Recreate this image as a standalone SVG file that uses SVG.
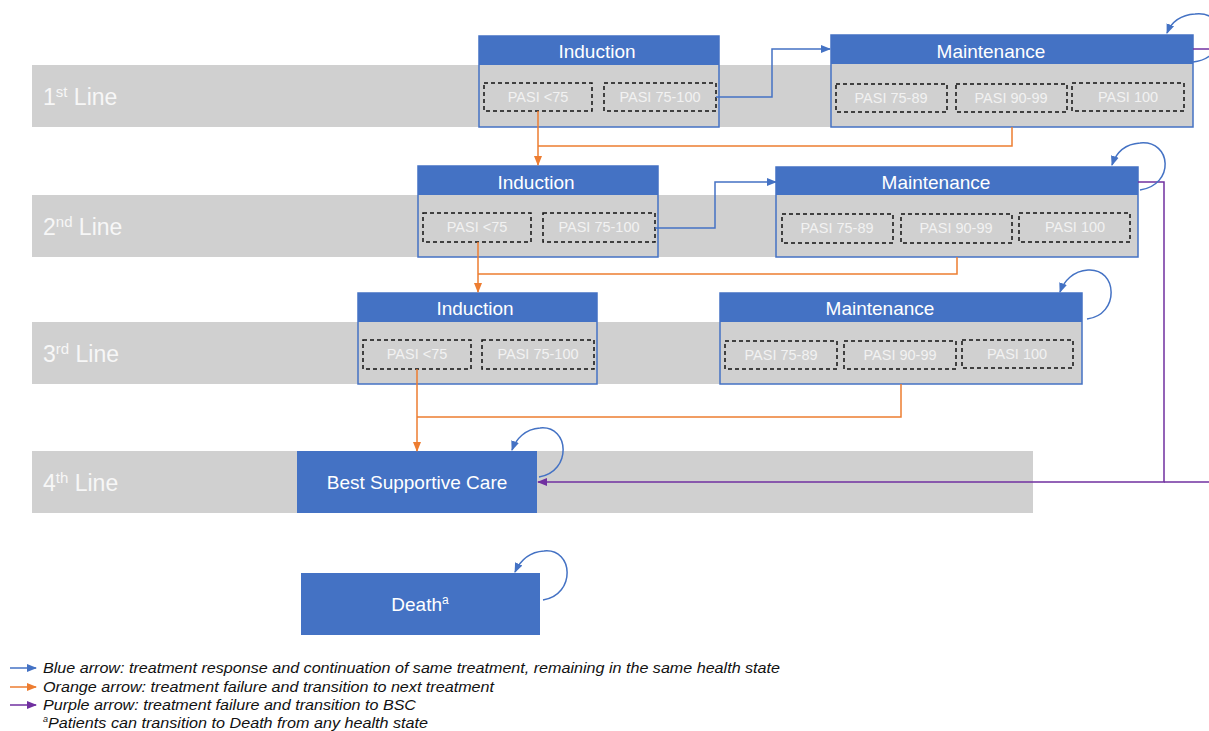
<svg xmlns="http://www.w3.org/2000/svg" width="1209" height="731" viewBox="0 0 1209 731">
<defs>
<marker id="ab" markerUnits="userSpaceOnUse" markerWidth="10" markerHeight="10" viewBox="0 0 10 10" refX="9" refY="5" orient="auto"><path d="M0,1 L10,5 L0,9 Z" fill="#4472C4"/></marker>
<marker id="ao" markerUnits="userSpaceOnUse" markerWidth="10" markerHeight="10" viewBox="0 0 10 10" refX="9" refY="5" orient="auto"><path d="M0,1 L10,5 L0,9 Z" fill="#ED7D31"/></marker>
<marker id="ap" markerUnits="userSpaceOnUse" markerWidth="10" markerHeight="10" viewBox="0 0 10 10" refX="9" refY="5" orient="auto"><path d="M0,1 L10,5 L0,9 Z" fill="#7030A0"/></marker>
</defs>
<style>
text{font-family:"Liberation Sans",Arial,sans-serif}
.band{fill:#d0d0d0}
.rl{fill:#f7f7f7;font-size:23px}
.hd{fill:#4472C4}
.bd{fill:#d0d0d0}
.frame{fill:none;stroke:#4472C4;stroke-width:1.5}
.ht{fill:#ffffff;font-size:19px;text-anchor:middle}
.dash{fill:none;stroke:#111;stroke-width:1.5;stroke-dasharray:4 3}
.pt{fill:#f2f2f2;font-size:14.5px;text-anchor:middle}
.blk{fill:#4472C4}
.cb{fill:none;stroke:#4472C4;stroke-width:1.5}
.co{fill:none;stroke:#ED7D31;stroke-width:1.5}
.cp{fill:none;stroke:#7030A0;stroke-width:1.5}
.lg{fill:#111;font-size:15px;font-style:italic}
</style>
<rect width="1209" height="731" fill="#ffffff"/>
<g id="bands">
<rect class="band" x="32" y="65" width="1161" height="62"/>
<rect class="band" x="32" y="195" width="1106" height="62"/>
<rect class="band" x="32" y="322" width="1050" height="62"/>
<rect class="band" x="32" y="451" width="1001" height="62"/>
<text class="rl" x="43" y="105">1<tspan font-size="15" dy="-8">st</tspan><tspan dy="8"> Line</tspan></text>
<text class="rl" x="43" y="235">2<tspan font-size="15" dy="-8">nd</tspan><tspan dy="8"> Line</tspan></text>
<text class="rl" x="43" y="362">3<tspan font-size="15" dy="-8">rd</tspan><tspan dy="8"> Line</tspan></text>
<text class="rl" x="43" y="491">4<tspan font-size="15" dy="-8">th</tspan><tspan dy="8"> Line</tspan></text>
</g>
<g id="ind1">
<rect class="bd" x="479" y="65" width="240" height="62"/>
<rect class="hd" x="479" y="36" width="240" height="29"/>
<rect class="frame" x="479" y="36" width="240" height="91"/>
<text class="ht" x="597" y="58">Induction</text>
<rect class="dash" x="484" y="83" width="108" height="28"/>
<text class="pt" x="538" y="102">PASI &lt;75</text>
<rect class="dash" x="604" y="83" width="112" height="28"/>
<text class="pt" x="660" y="102">PASI 75-100</text>
</g>
<g id="maint1">
<rect class="bd" x="831" y="64" width="362" height="63"/>
<rect class="hd" x="831" y="35" width="362" height="29"/>
<rect class="frame" x="831" y="35" width="362" height="92"/>
<text class="ht" x="991" y="58">Maintenance</text>
<rect class="dash" x="836" y="84" width="111" height="28"/>
<text class="pt" x="891" y="103">PASI 75-89</text>
<rect class="dash" x="956" y="84" width="111" height="28"/>
<text class="pt" x="1011" y="103">PASI 90-99</text>
<rect class="dash" x="1072" y="83" width="112" height="28"/>
<text class="pt" x="1128" y="102">PASI 100</text>
</g>
<g id="ind2">
<rect class="bd" x="418" y="195" width="240" height="62"/>
<rect class="hd" x="418" y="166" width="240" height="29"/>
<rect class="frame" x="418" y="166" width="240" height="91"/>
<text class="ht" x="536" y="189">Induction</text>
<rect class="dash" x="423" y="213" width="108" height="29"/>
<text class="pt" x="477" y="232">PASI &lt;75</text>
<rect class="dash" x="543" y="213" width="112" height="29"/>
<text class="pt" x="599" y="232">PASI 75-100</text>
</g>
<g id="maint2">
<rect class="bd" x="776" y="195" width="362" height="62"/>
<rect class="hd" x="776" y="167" width="362" height="28"/>
<rect class="frame" x="776" y="167" width="362" height="90"/>
<text class="ht" x="936" y="189">Maintenance</text>
<rect class="dash" x="782" y="214" width="111" height="29"/>
<text class="pt" x="837" y="233">PASI 75-89</text>
<rect class="dash" x="901" y="214" width="111" height="29"/>
<text class="pt" x="956" y="233">PASI 90-99</text>
<rect class="dash" x="1019" y="213" width="111" height="29"/>
<text class="pt" x="1075" y="232">PASI 100</text>
</g>
<g id="ind3">
<rect class="bd" x="358" y="322" width="239" height="62"/>
<rect class="hd" x="358" y="293" width="239" height="29"/>
<rect class="frame" x="358" y="293" width="239" height="91"/>
<text class="ht" x="475" y="315">Induction</text>
<rect class="dash" x="363" y="340" width="108" height="29"/>
<text class="pt" x="417" y="359">PASI &lt;75</text>
<rect class="dash" x="482" y="340" width="112" height="29"/>
<text class="pt" x="538" y="359">PASI 75-100</text>
</g>
<g id="maint3">
<rect class="bd" x="720" y="322" width="362" height="62"/>
<rect class="hd" x="720" y="293" width="362" height="29"/>
<rect class="frame" x="720" y="293" width="362" height="91"/>
<text class="ht" x="880" y="315">Maintenance</text>
<rect class="dash" x="725" y="341" width="112" height="28"/>
<text class="pt" x="781" y="360">PASI 75-89</text>
<rect class="dash" x="844" y="341" width="112" height="28"/>
<text class="pt" x="900" y="360">PASI 90-99</text>
<rect class="dash" x="962" y="340" width="111" height="28"/>
<text class="pt" x="1017" y="359">PASI 100</text>
</g>
<g id="bsc">
<rect class="blk" x="297" y="451" width="240" height="62"/>
<text class="ht" x="417" y="489">Best Supportive  Care</text>
</g>
<g id="death">
<rect class="blk" x="301" y="573" width="239" height="62"/>
<text class="ht" x="420" y="611">Death<tspan font-size="12" dy="-7">a</tspan></text>
</g>
<g id="connectors">
<path class="cb" d="M716,97 H772 V49 H830" marker-end="url(#ab)"/>
<path class="cb" d="M655,228 H715 V182 H776" marker-end="url(#ab)"/>
<path class="co" d="M538,111 V165" marker-end="url(#ao)"/>
<path class="co" d="M1012,127 V146 H538"/>
<path class="co" d="M478,242 V292" marker-end="url(#ao)"/>
<path class="co" d="M957,257 V274 H478"/>
<path class="co" d="M417,369 V451" marker-end="url(#ao)"/>
<path class="co" d="M901,384 V417 H417"/>
<path class="cp" d="M1193,49 H1212"/>
<path class="cp" d="M1138,182 H1164 V482 H538" marker-end="url(#ap)"/>
<path class="cp" d="M1212,482 H1164"/>
<path class="cb" d="M1193,62 C1230,58 1228,10 1195,14 C1180,15 1171,23 1167,33" marker-end="url(#ab)"/>
<path class="cb" d="M1140,190 C1175,185 1172,140 1140,143 C1125,144 1116,153 1112,165" marker-end="url(#ab)"/>
<path class="cb" d="M1087,319 C1120,315 1118,268 1088,270 C1073,271 1064,281 1060,292" marker-end="url(#ab)"/>
<path class="cb" d="M539,477 C572,472 570,425 540,428 C525,429 516,439 512,450" marker-end="url(#ab)"/>
<path class="cb" d="M543,600 C576,595 574,548 544,551 C529,552 520,561 515,572" marker-end="url(#ab)"/>
</g>
<g id="legend">
<path class="cb" d="M10,668 H36" marker-end="url(#ab)"/>
<path class="co" d="M10,687 H36" marker-end="url(#ao)"/>
<path class="cp" d="M10,705 H36" marker-end="url(#ap)"/>
<text class="lg" x="43" y="673" textLength="737" lengthAdjust="spacingAndGlyphs">Blue arrow: treatment response and continuation of same treatment, remaining in the same health state</text>
<text class="lg" x="43" y="692" textLength="451" lengthAdjust="spacingAndGlyphs">Orange arrow: treatment failure and transition to next treatment</text>
<text class="lg" x="43" y="710" textLength="373" lengthAdjust="spacingAndGlyphs">Purple arrow: treatment failure and transition to BSC</text>
<text class="lg" x="43" y="728"><tspan font-size="9" dy="-6">a</tspan><tspan dy="6" textLength="380" lengthAdjust="spacingAndGlyphs">Patients can transition to Death from any health state</tspan></text>
</g>
</svg>
